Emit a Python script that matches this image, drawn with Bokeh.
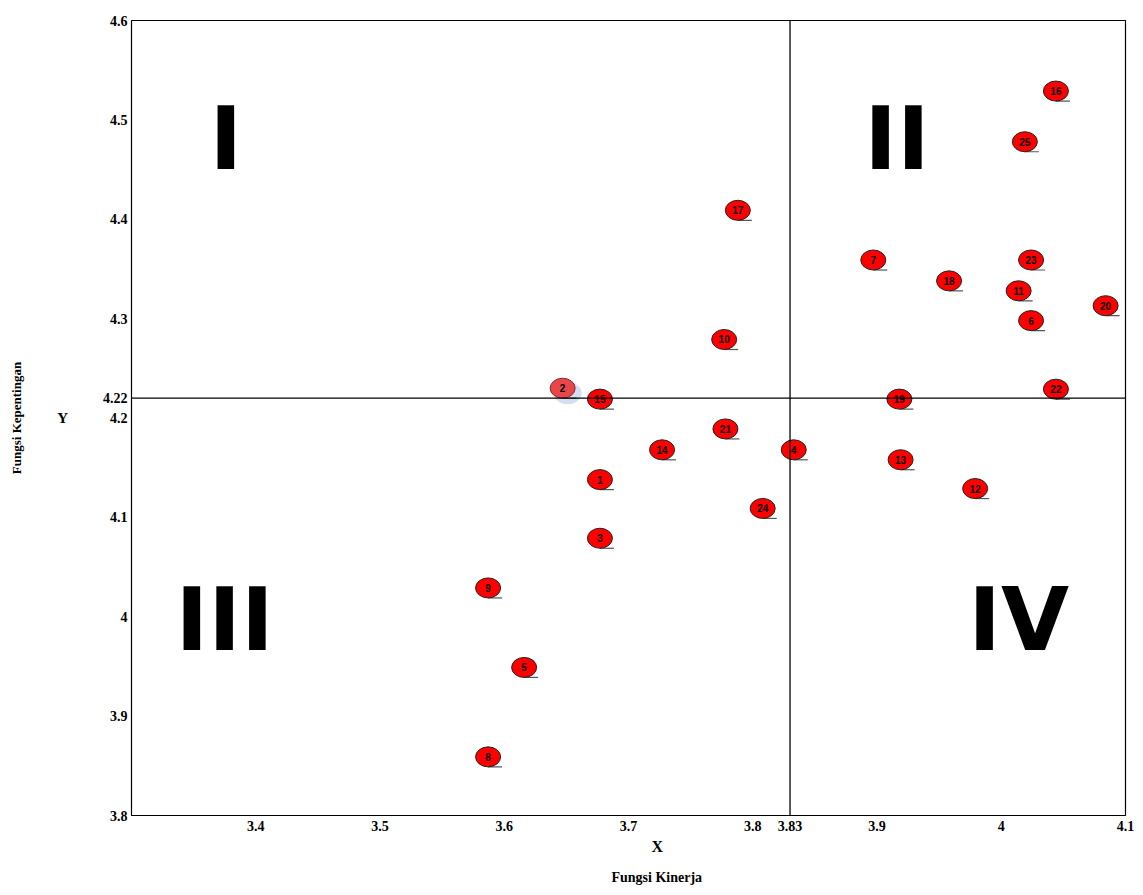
from bokeh.plotting import figure
from bokeh.models import Range1d, FixedTicker, Span, Label, ColumnDataSource, Title, LinearAxis
from bokeh.embed import file_html
from bokeh.resources import INLINE
from bokeh.core.properties import value

# ---- data ----
ids = ["1", "2", "3", "4", "5", "6", "7", "8", "9", "10", "11", "12", "13",
       "14", "15", "16", "17", "18", "19", "20", "21", "22", "23", "24", "25"]
kinerja = [3.677, 3.647, 3.677, 3.833, 3.616, 4.024, 3.897, 3.587, 3.587, 3.777,
           4.014, 3.979, 3.919, 3.727, 3.677, 4.044, 3.788, 3.958, 3.918, 4.084,
           3.778, 4.044, 4.024, 3.808, 4.019]
kepentingan = [4.138, 4.230, 4.079, 4.168, 3.949, 4.298, 4.359, 3.859, 4.029, 4.279,
               4.328, 4.129, 4.158, 4.168, 4.219, 4.529, 4.409, 4.338, 4.219, 4.313,
               4.189, 4.229, 4.359, 4.109, 4.478]
x_mean = 3.83
y_mean = 4.22
x_ticks = [3.4, 3.5, 3.6, 3.7, 3.8, 3.83, 3.9, 4.0, 4.1]
x_tick_labels = ["3.4", "3.5", "3.6", "3.7", "3.8", "3.83", "3.9", "4", "4.1"]
y_ticks = [3.8, 3.9, 4.0, 4.1, 4.2, 4.22, 4.3, 4.4, 4.5, 4.6]
y_tick_labels = ["3.8", "3.9", "4", "4.1", "4.2", "4.22", "4.3", "4.4", "4.5", "4.6"]

X0, X1 = 3.3, 4.1
Y0, Y1 = 3.8, 4.6
W, H = 1141, 895
BL, BT = 131, 20
BR = W - 1125
BB = H - 815
FW, FH = W - BL - BR, H - BT - BB
px_x = (X1 - X0) / FW   # data per pixel
px_y = (Y1 - Y0) / FH

p = figure(width=W, height=H, output_backend="svg", toolbar_location=None,
           x_range=Range1d(X0, X1), y_range=Range1d(Y0, Y1),
           min_border_left=BL, min_border_right=BR, min_border_top=BT, min_border_bottom=BB)
p.grid.visible = False
p.outline_line_color = "black"
p.outline_line_width = 1.2
p.background_fill_color = "white"
p.border_fill_color = "white"


def style_axis(ax):
    ax.major_tick_in = 0
    ax.major_tick_out = 0
    ax.minor_tick_in = 0
    ax.minor_tick_out = 0
    ax.axis_line_color = None
    ax.major_label_text_font = "Liberation Serif"
    ax.major_label_text_font_style = "bold"
    ax.major_label_text_font_size = "14px"
    ax.major_label_text_color = "black"
    ax.axis_label_text_font = "Liberation Serif"
    ax.axis_label_text_font_style = "bold"
    ax.axis_label_text_color = "black"


for ax, ticks, labels in ((p.xaxis[0], x_ticks, x_tick_labels), (p.yaxis[0], y_ticks, y_tick_labels)):
    ax.ticker = FixedTicker(ticks=ticks)
    ax.major_label_overrides = {t: l for t, l in zip(ticks, labels)}
    style_axis(ax)
p.xaxis[0].major_label_standoff = 5
p.yaxis[0].major_label_standoff = 4

# "Y" title upright
p.yaxis[0].axis_label = "Y"
p.yaxis[0].axis_label_orientation = "horizontal"
p.yaxis[0].axis_label_standoff = 32
p.yaxis[0].axis_label_text_font_size = "15px"

# outer left title as an empty axis
outer = LinearAxis(ticker=FixedTicker(ticks=[]), axis_label="Fungsi Kepentingan")
style_axis(outer)
outer.axis_label_standoff = 31
outer.axis_label_text_font_size = "13px"
p.add_layout(outer, "left")

# bottom titles
p.add_layout(Title(text="X", align="left", offset=520, standoff=4,
                   text_font="Liberation Serif", text_font_style="bold",
                   text_font_size="16px", text_color="black"), "below")
p.add_layout(Title(text="Fungsi Kinerja", align="left", offset=480, standoff=22,
                   text_font="Liberation Serif", text_font_style="bold",
                   text_font_size="14px", text_color="black"), "below")

# quadrant lines
p.add_layout(Span(location=x_mean, dimension="height", line_color="black", line_width=1.3))
p.add_layout(Span(location=y_mean, dimension="width", line_color="black", line_width=1.3))

# quadrant labels
quad = [("I", 3.376, 4.481), ("II", 3.916, 4.481), ("III", 3.375, 3.997), ("IV", 4.014, 3.997)]
for t, qx, qy in quad:
    p.add_layout(Label(x=qx, y=qy, text=t, text_font="DejaVu Sans", text_font_style="bold",
                       text_font_size="88px", text_align="center", text_baseline="alphabetic",
                       text_color="black"))

# points
fills = ["#ff0000"] * len(ids)
lines = ["#222222"] * len(ids)
fills[1] = "#e8474a"
lines[1] = "#8a2a2a"
src = ColumnDataSource(dict(x=kinerja, y=kepentingan, id=ids, fill=fills, line=lines,
                            ux0=kinerja, ux1=[v + 14 * px_x for v in kinerja],
                            uy=[v - 10 * px_y for v in kepentingan]))

# glow under point 2
p.ellipse(x=[kinerja[1] + 5 * px_x], y=[kepentingan[1] - 5 * px_y], width=28, height=22,
          width_units="screen", height_units="screen", fill_color="#c8d8ee", line_color=None,
          fill_alpha=0.8)
p.segment(x0="ux0", x1="ux1", y0="uy", y1="uy", source=src, line_color="#555555", line_width=1.2)
p.ellipse(x="x", y="y", width=25, height=20, width_units="screen", height_units="screen",
          fill_color="fill", line_color="line", line_width=1, source=src)
p.text(x="x", y="y", text="id", source=src, text_font=value("Liberation Sans"),
       text_font_style="bold", text_font_size="10px", text_align="center",
       text_baseline="middle", text_color="black")

open("out.html", "w").write(file_html(p, INLINE))
